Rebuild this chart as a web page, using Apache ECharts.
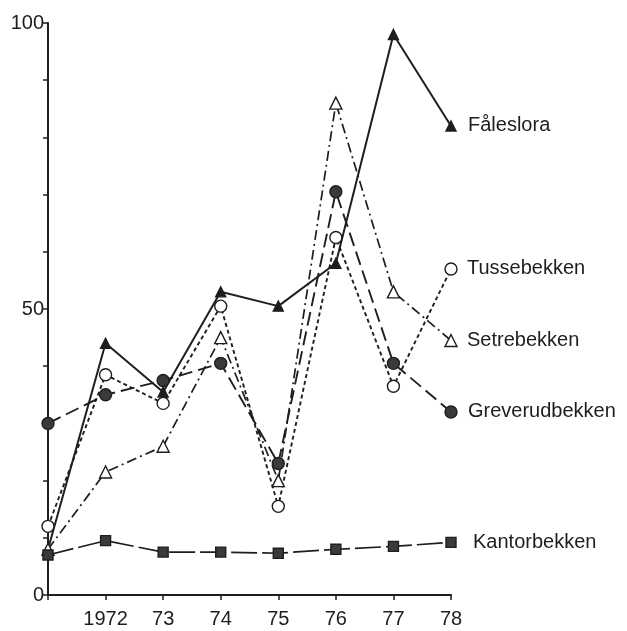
<!DOCTYPE html>
<html>
<head>
<meta charset="utf-8">
<script src="https://cdn.jsdelivr.net/npm/echarts@6/dist/echarts.min.js"></script>
<style>
  html, body { margin: 0; padding: 0; background: #fff; }
  #chart { width: 627px; height: 631px; }
</style>
</head>
<body>
<div id="chart"></div>
<script>
// categories (first year has no label on the axis)
const years = ['', '1972', '73', '74', '75', '76', '77', '78']

const faleslora = [8, 44, 35.5, 53, 50.5, 58, 98, 82]
const setrebekken = [8, 21.5, 26, 45, 20, 86, 53, 44.5]
const tussebekken = [12, 38.5, 33.5, 50.5, 15.5, 62.5, 36.5, 57]
const greverudbekken = [30, 35, 37.5, 40.5, 23, 70.5, 40.5, 32]
const kantorbekken = [7, 9.5, 7.5, 7.5, 7.3, 8, 8.5, 9.2]

const yLabels = [0, 50, 100]

const ink = '#1e1e1e'
const font = 'Liberation Sans'

function makeSeries(name, data, dash, symbol, size, fill, width, gap) {
  return {
    name: name,
    type: 'line',
    data: data,
    symbol: symbol,
    symbolSize: size,
    showAllSymbol: true,
    lineStyle: { color: ink, width: width, type: dash },
    itemStyle: { color: fill, borderColor: ink, borderWidth: 1.4 },
    endLabel: {
      show: true,
      formatter: '{a}',
      color: ink,
      fontFamily: font,
      fontSize: 20,
      distance: gap
    },
    emphasis: { disabled: true }
  }
}

const chart = echarts.init(document.getElementById('chart'))
chart.setOption({
  animation: false,
  backgroundColor: '#fff',
  grid: { left: 48, right: 176, top: 23, bottom: 36 },
  xAxis: {
    type: 'category',
    data: years,
    boundaryGap: false,
    axisLine: { lineStyle: { color: ink, width: 2 } },
    axisTick: { show: true, interval: 0, length: 5, lineStyle: { color: ink, width: 1.5 } },
    axisLabel: { interval: 0, color: ink, fontFamily: font, fontSize: 20, margin: 14 },
    splitLine: { show: false }
  },
  yAxis: {
    type: 'value',
    min: 0,
    max: 100,
    interval: 10,
    axisLine: { show: true, lineStyle: { color: ink, width: 2 } },
    axisTick: { show: true, length: 5, lineStyle: { color: ink, width: 1.5 } },
    axisLabel: {
      color: ink,
      fontFamily: font,
      fontSize: 20,
      margin: 4,
      formatter: function (v) {
        return yLabels.indexOf(v) >= 0 ? String(v) : ''
      }
    },
    splitLine: { show: false }
  },
  series: [
    makeSeries('Fåleslora', faleslora, 'solid', 'triangle', 10, ink, 2, 17),
    makeSeries('Setrebekken', setrebekken, [10, 4, 2, 4], 'triangle', 12, '#fff', 1.7, 16),
    makeSeries('Tussebekken', tussebekken, [4, 3], 'circle', 12, '#fff', 1.9, 16),
    makeSeries('Greverudbekken', greverudbekken, [14, 6], 'circle', 12, '#3a3a3a', 1.9, 17),
    makeSeries('Kantorbekken', kantorbekken, [26, 5], 'rect', 10, '#3a3a3a', 1.7, 22)
  ]
})
</script>
</body>
</html>
